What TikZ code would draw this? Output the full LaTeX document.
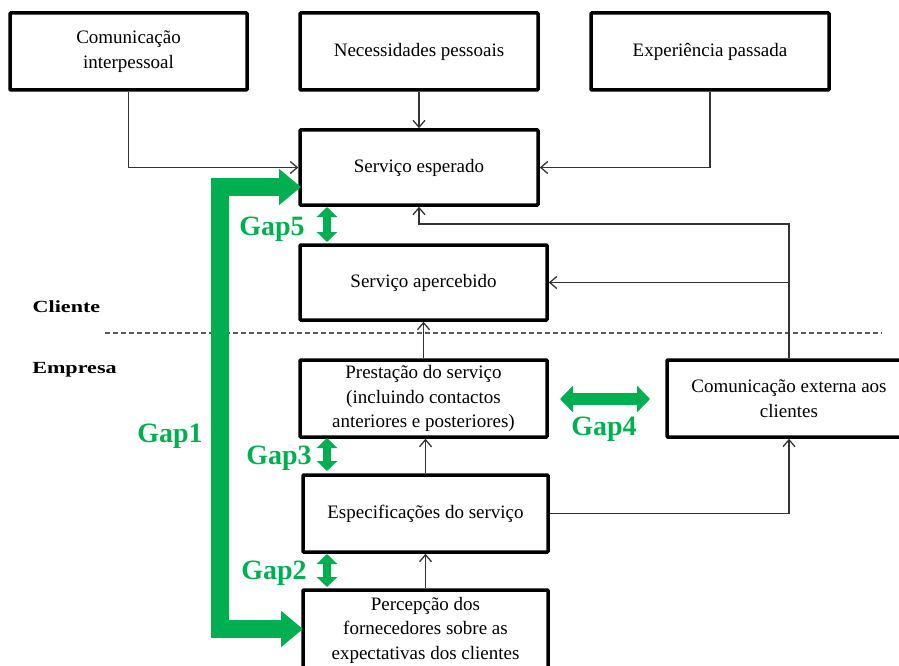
\documentclass[tikz,border=0pt]{standalone}
\usepackage{fontspec}
\setmainfont{Liberation Serif}
\newfontfamily\sidefont[FakeStretch=1.3]{Liberation Serif}
\usetikzlibrary{arrows.meta}
\definecolor{gapgreen}{RGB}{0,176,80}
\tikzset{
  box/.style={draw=black, line width=3.5pt, fill=white, align=center,
    inner sep=0pt, rounded corners=0.8pt,
    font=\fontsize{19}{24.5}\selectfont},
  conn/.style={draw=black!80, line width=1.3pt,
    -{Straight Barb[length=7pt,width=12pt]}},
  divider/.style={draw=black!65, line width=1.2pt, dash pattern=on 5pt off 3pt},
  sidelabel/.style={font=\fontsize{17}{20}\sidefont\bfseries, anchor=base, inner sep=0pt},
  gaplabel/.style={text=gapgreen, font=\fontsize{28}{30}\selectfont\bfseries,
    anchor=base, inner sep=0pt},
  gapbig/.style={draw=gapgreen, line width=18pt, line join=miter,
    {Triangle[length=22pt,width=35pt]}-{Triangle[length=22pt,width=35pt]}},
  gapvert/.style={draw=gapgreen, line width=8pt,
    {Triangle[length=10pt,width=20pt]}-{Triangle[length=10pt,width=20pt]}},
  gaphoriz/.style={draw=gapgreen, line width=12pt,
    {Triangle[length=13pt,width=26pt]}-{Triangle[length=13pt,width=26pt]}},
}
\begin{document}
\begin{tikzpicture}[x=1pt,y=-1pt]
  \useasboundingbox (0,0) rectangle (899,666);

  % customer / company divider
  \draw[divider] (105,333) -- (882,333);
  \node[sidelabel] (cliente) at (66.5,312) {Cliente};
  \node[sidelabel] (empresa) at (74.5,373) {Empresa};

  % boxes
  \node[box, minimum width=237pt, minimum height=77pt] (ci) at (128.5,51.5) {Comunicação\\interpessoal};
  \node[box, minimum width=238pt, minimum height=77pt] (np) at (419,51.5) {Necessidades pessoais};
  \node[box, minimum width=238pt, minimum height=77pt] (ep) at (710,51.5) {Experiência passada};
  \node[box, minimum width=238pt, minimum height=75pt] (se) at (419,167.5) {Serviço esperado};
  \node[box, minimum width=247pt, minimum height=75pt] (sa) at (423.5,282.5) {Serviço apercebido};
  \node[box, minimum width=247pt, minimum height=77pt] (ps) at (423.5,398.5) {Prestação do serviço\\(incluindo contactos\\anteriores e posteriores)};
  \node[box, minimum width=244pt, minimum height=77pt] (ce) at (789,398.5) {Comunicação externa aos\\clientes};
  \node[box, minimum width=245pt, minimum height=77pt] (es) at (425.5,513.5) {Especificações do serviço};
  \node[box, minimum width=245pt, minimum height=80pt] (pf) at (425.5,630) {Percepção dos\\fornecedores sobre as\\expectativas dos clientes};

  % connectors
  \draw[conn] (ci.south) |- (se.west);
  \draw[conn] (np.south) -- (se.north);
  \draw[conn] (ep.south) |- (se.east);
  \coordinate (turnA) at (789,224);
  \draw[conn] (ce.north) -- (turnA) -| (se.south);
  \draw[conn] (ce.north |- sa.east) -- (sa.east);
  \draw[conn] (ps.north) -- (sa.south);
  \draw[conn] (es.north) -- (es.north |- ps.south);
  \draw[conn] (pf.north) -- (es.south);
  \draw[conn] (es.east) -| (ce.south);

  % Gap 1
  \coordinate (g1top) at (301,187);
  \coordinate (g1bot) at (303,629);
  \draw[gapbig] (g1top) -- (220,187) -- (220,629) -- (g1bot);
  \node[gaplabel] (gap1) at (170,442) {Gap1};

  % Gap 5
  \coordinate (g5a) at (327,207);
  \coordinate (g5b) at (327,242);
  \draw[gapvert] (g5a) -- (g5b);
  \node[gaplabel] (gap5) at (272,235) {Gap5};

  % Gap 3
  \coordinate (g3a) at (327,438);
  \coordinate (g3b) at (327,471);
  \draw[gapvert] (g3a) -- (g3b);
  \node[gaplabel] (gap3) at (279,464) {Gap3};

  % Gap 2
  \coordinate (g2a) at (327,554);
  \coordinate (g2b) at (327,587);
  \draw[gapvert] (g2a) -- (g2b);
  \node[gaplabel] (gap2) at (274,579) {Gap2};

  % Gap 4
  \coordinate (g4a) at (560,399);
  \coordinate (g4b) at (650,399);
  \draw[gaphoriz] (g4a) -- (g4b);
  \node[gaplabel] (gap4) at (604,435) {Gap4};
\end{tikzpicture}
\end{document}
